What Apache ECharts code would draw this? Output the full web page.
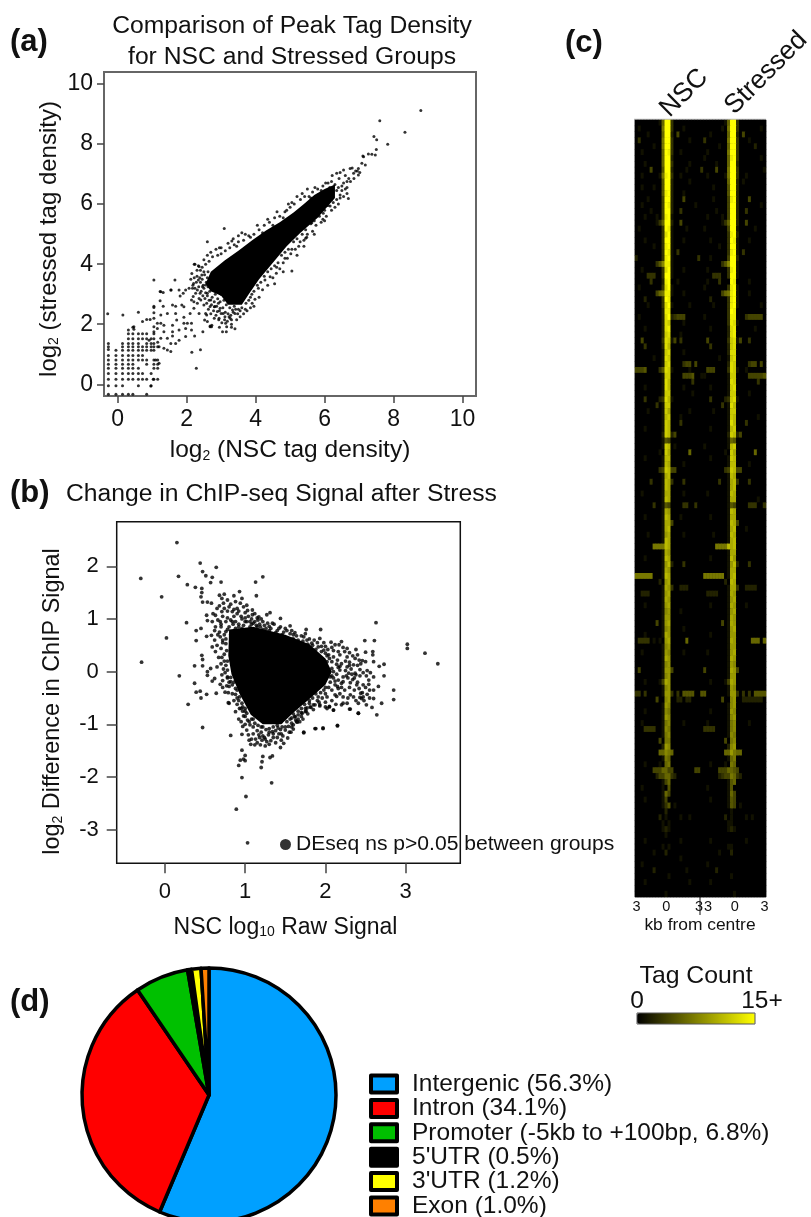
<!DOCTYPE html>
<html><head><meta charset="utf-8">
<style>html,body{margin:0;padding:0;background:#fff}#c{width:811px;height:1217px}</style>
<script src="https://cdn.jsdelivr.net/npm/echarts@6/dist/echarts.min.js"></script>
</head><body><div id="c"></div>
<script>
const FONT='"Liberation Sans",Arial,sans-serif';
const ticksAx=[0,2,4,6,8,10];
const ticksAy=[0,2,4,6,8,10];
const ticksBx=[0,1,2,3];
const ticksBy=[-3,-2,-1,0,1,2];
// (a) discrete low-count lattice, read column by column
const latticeA=[
[-.27,[-.33,-.05,.17,.36,.53,.67,.81,.96,1.16,1.25,1.36]],
[-.05,[-.33,-.05,.17,.36,.53,.67,.81,.96,1.13]],
[.14,[-.33,-.05,.17,.36,.53,.67,.81,.96,1.13,1.25,1.36]],
[.31,[-.33,.17,.36,.53,.67,.81,.96,1.13,1.25,1.36,1.52,1.68,1.81]],
[.44,[-.33,.17,.36,.53,.67,.81,.96,1.13,1.25,1.36,1.52,1.68,1.9]],
[.6,[-.05,.17,.36,.53,.81,.96,1.13,1.25,1.36,1.52,1.68]],
[.72,[.17,.36,.81,.96,1.13,1.25,1.52,1.68]],
[.84,[-.33,.17,.67,.81,1.13,1.25,1.36,1.52,1.68]],
[.97,[-.05,.36,1.13,1.25,1.36,1.52]],
[1.05,[.17,.53,.67,.81,1.13,1.25,1.36,1.52,1.68]],
[1.16,[.17,.53,.67,.81,1.25,1.4]]];
// (a) individually readable points
const pointsA=[[-.29,2.35],[.15,2.31],[.6,2.4],[1.05,2.56],[1.05,3.47],[1.23,3.09],[1.32,3.06],[1.66,3.47],[1.55,3.14],[2.24,4],[2.36,3.92],[2.6,4.75],[3.09,5.19],[3.31,4.77],[5.05,3.77],[6.69,6.19],[5.45,4.86],[2.28,.53],[2.15,1.07],[2.4,1.15],[8.79,9.12],[7.6,8.78],[8.33,8.39],[7.83,7.99],[7.43,8.25],[7.51,8.14],[7.5,7.82],[7.47,7.64],[7.37,7.66],[7.27,7.67],[7.11,7.6],
[1.25,3.08],[1.54,3.14],[1.78,3.14],[1.9,3.03],[1.81,2.94],[1.97,3.14],[2.2,3.36],[2.07,3.2],[2.17,3.2],[2.26,3.03],[2.14,2.81],[1.23,2.78],[1.05,2.6],[1.32,2.6],[1.59,2.64],[1.68,2.6],[1.86,2.64],[1.92,2.58],[2.21,2.75],[2.31,2.7],[2.41,2.81],[2.5,2.64],[2.21,2.53],[1.05,2.38],[1.25,2.31],[1.44,2.36],[1.68,2.36],[1.92,2.23],[2.1,2.36],[2.36,2.36],[2.55,2.36],[.84,2.16],[.94,2.16],[.47,1.92],[.47,1.83],[.72,2.09],[1.05,2.2],[1.15,2.03],[1.25,2.03],[1.34,1.97],[1.05,1.92],[1.59,1.97],[1.71,2.14],[1.92,2.03],[2.02,2.03],[2.14,2.03],[2.14,1.81],[1.97,1.86],[1.78,1.81],[1.59,1.75],[1.34,1.75],[1.15,1.86],[1.05,1.75],[1.59,1.61],[1.44,1.53],[1.25,1.53],[.91,1.47],[1.97,1.59],[2.23,1.61],[2.47,1.75],[1.78,1.47],[1.68,1.36],[1.54,1.36],[1.44,1.14],[1.54,1.09],[1.34,1.2],[1.2,1.25],[1.1,.81],[1.2,.7],[1.03,.17],[.96,-.06],
[2.6,2.09],[2.8,2.2],[2.94,2.2],[3.04,1.75],[3.13,2.03],[3.23,2.25],[3.33,2.47],[2.6,3.03],[2.7,2.81],[2.8,2.58],[3,2.36],[2.68,1.94],[2.72,1.92],[2.52,2.14],[2.89,2.42],[2.31,3.14],[2.46,3.25],[2.36,2.86],[2.55,3.31],
[2.22,4],[2.34,3.95],[2.44,3.64],[2.15,3.69],[2.34,3.47],[2.24,3.2],[2.48,3.3],[2.19,2.92],[2.53,2.86],[2.39,3.03],[2.68,2.59],[2.82,2.59],[2.97,2.53],[2.68,1.92],[2.73,1.97],[3.16,1.92],[3.11,2.25],[3.26,2.2],[3.4,2.36],[3.06,2.36],[2.92,2.7],[2.58,2.31],
[5.63,5.38],[5.96,5.7],[6.16,5.94],[5.96,5.86],
[5.5,6],[5.6,5.95],[5.7,6.2],[5.75,5.9],[5.8,6.3],[5.85,6.1],[5.9,5.85],[6,6.1],[6.05,6.45],[6.05,5.95],[6.1,6.3],[6.15,6.55],[6.2,6.15],[6.25,6.4],[6.3,6.65],[6.35,6.45],[6.4,6.55],[6.45,6.3],[6.5,6.6],[6.5,6.45],[6.55,6.7],[6.6,6.5],[6.65,6.75],[6.65,6.55],[6.7,6.85],[6.35,7.03],[6.55,7.14],[6.74,7.19],[6.84,7.03],[6.98,7.19],[7.08,7.36],[7.13,7.58],[7.18,7.3],[6.98,6.97],[6.9,7.1],[6.8,7.2],
[2.12,3.5],[2.18,3.3],[2.22,3.55],[2.28,3.4],[2.3,3.6],[2.35,3.25],[2.38,3.55],[2.4,3.4],[2.42,3.1],[2.45,3.5],[2.47,2.95],[2.5,3.2],[2.52,3.65],[2.55,3.05],[2.57,3.4],[2.58,2.7],[2.6,2.95],[2.62,3.25],[2.63,2.5],[2.65,2.8],[2.67,3.1],[2.7,2.35],[2.72,2.65],[2.74,2.9],[2.77,3.25],[2.78,2.45],[2.8,2.75],[2.83,3],[2.85,2.3],[2.87,2.6],[2.9,2.85],[2.93,2.15],[2.95,2.45],[2.97,2.75],[3,3],[3.02,2.05],[3.05,2.55],[3.08,2.8],[3.1,2.15],[3.12,2.4],[3.15,2.65],[3.18,2.1],[3.2,2.35],[3.25,2.55],[3.28,2.3],[3.3,2.15],[3.35,2.4],[3.38,2.6],[3.42,2.5],[3.48,2.35],[3.5,2.5],[3.55,2.45],[3.6,2.55],[3.7,2.5],[3.72,2.7],[3.8,2.8],[3.9,2.7],
[2.45,3.9],[2.55,4],[2.65,4.1],[2.75,4.25],[2.9,4.3],[3,4.35],[3.12,4.45],[3.25,4.55],[3.38,4.65],[3.5,4.75],[3.65,4.8],[3.8,4.95],[3.95,5],[4.1,5.15],[4.25,5.3],[4.4,5.4],[4.55,5.55],[4.7,5.6],[4.85,5.75],[5,5.9],[5.12,6],[5.3,6.15],[5.42,6.25],[5.55,6.25],[5.65,6.4],[5.8,6.5],[5.95,6.6],[6.1,6.7],[6.2,6.75],
[3.85,2.9],[3.95,3.1],[4.05,3.3],[4.15,3.4],[4.25,3.6],[4.35,3.75],[4.45,3.85],[4.55,3.95],[4.65,4.05],[4.75,4.3],[4.85,4.4],[4.95,4.5],[5.1,4.75],[5.2,4.85],[5.35,5],[5.45,5.15],[5.6,5.35],[5.7,5.45],[5.85,5.6],[6,5.8],[6.1,5.95],[6.25,6.05],[6.35,6.15],[6.45,6.2],
[3.98,2.83],[3.89,3],[4.08,3.2],[4.27,3.47],[4.42,3.58],[4.61,3.9],[4.85,4.2],[5.05,4.5],[5.29,4.75],[5.48,4.9],
[3,4.55],[3.2,4.7],[3.45,4.6],[3.7,5],[3.6,5.05],[3.85,4.9],[4.05,5.3],[4.2,5.05],[4.35,5.5],[4.5,5.3],[4.62,5.75],[4.8,5.55],[4.95,6],[4.9,5.8],[5.05,6.05],[5.2,6.25],[5.35,6.35],[5.5,6.5],[5.6,6.2],[5.72,6.55],[5.9,6.45],[6.03,6.7],[6.22,6.95],[6.42,6.85],[6.6,6.95],[6.75,6.75],[6.85,6.85],[6.95,7.1],[7.02,7.05],[6.45,7.05],
[3.95,2.6],[4.1,2.9],[4.2,3.15],[4.35,3.3],[4.5,3.55],[4.6,3.7],[4.7,3.85],[4.8,4.05],[4.92,4.2],[5.02,4.35],[5.15,4.5],[5.25,4.6],[5.4,4.8],[5.5,5],[5.65,5.1],[5.75,5.3],[5.9,5.4],[5.95,5.5],[6.05,5.6],[6.2,5.8],[6.3,5.9],[6.4,6],[6.55,6.25],[6.65,6.35],[4.55,3.35],[4.8,3.75],[5.2,4.3],[5.4,4.6],[5.7,5],[6,5.45],
[2.3,3.8],[2.5,4.15],[2.6,4.3],[2.7,4.4],[2.85,4.5],[2.62,3.75],[2.6,3.55],[2.5,3.75],[2.4,3.8],[3.35,4.85],[3.5,4.95],[2.95,4.55],
[3.3,1.9],[3.45,2.15],[3.55,2.25],[3.65,2.35],[3.75,2.45],[3.85,2.55],[3.3,2],[3.4,1.85],[3.15,1.75],[2.95,1.9]];
// (a) saturated region where the points merge into solid black
const coreA=[[2.55,3.35],[2.7,3.75],[3.1,4.12],[3.5,4.45],[3.9,4.8],[4.3,5.12],[4.7,5.4],[5.1,5.72],[5.4,6],[5.7,6.3],[6,6.5],[6.3,6.65],[6.3,6.2],[5.8,5.55],[5.3,5.05],[4.9,4.6],[4.5,4.05],[4.1,3.5],[3.8,3],[3.6,2.65],[3.2,2.65],[3,2.95],[2.7,3.1]];
// (b) individually readable points
const pointsB=[[.15,2.45],[-.3,1.77],[.17,1.81],[.44,2.06],[.64,1.98],[.47,1.9],[.51,1.82],[.59,1.79],[.57,1.69],[.7,1.7],[1.13,1.7],[1.22,1.8],[.28,1.65],[.38,1.6],[.46,1.58],[.46,1.5],[.45,1.42],[-.04,1.42],[.47,1.32],[1.14,1.44],[.93,1.52],[.86,1.44],[.68,1.45],[.74,1.47],[.71,1.39],[.78,1.36],[.96,1.39],[.53,1.32],[.58,1.3],[.65,1.2],[.73,1.3],[.8,1.23],[.88,1.33],[.98,1.23],[1.02,1.26],[1.09,1.17],[.52,1.07],[.63,1.07],[.71,1.14],[.84,1.14],[.9,1.2],[1.31,1.12],[1.27,1.08],[1.44,1.01],[1.17,1.04],[.27,.93],[.53,.97],[.59,.95],[.69,.95],[.82,.98],[.39,.78],[.45,.82],[.02,.64],[.39,.59],[.52,.67],[.63,.85],[.58,.69],[.69,.66],[.76,.76],[.65,.5],[.59,.47],[.63,.38],[.7,.44],[.76,.53],[.46,.31],[.47,.23],[-.29,.18],[.37,.11],[.47,.11],[.57,.06],[.53,0],[.65,.09],[.67,.27],[.71,.27],[.76,.12],[.78,.03],[.18,-.08],[.53,-.07],[.62,-.13],[.59,-.18],[.71,-.06],[.72,-.17],[.82,-.11],[.82,-.19],[.69,-.24],[.77,-.27],[.37,-.22],[.39,-.39],[.44,-.37],[.52,-.43],[.64,-.41],[.45,-.5],[.75,-.39],[.79,-.4],[.88,-.32],[.88,-.43],[.93,-.48],[.29,-.62],[.8,-.6],[.96,-.6],[.97,-.67],
[.47,-1.06],[.82,-1.21],[.96,-1.19],[.79,-.59],[.88,-.76],[.92,-.9],[.98,-.84],[1.02,-.79],[.97,-1.04],[1.02,-1.11],[1.06,-1.01],[1.04,-1.2],[1.08,-1.28],[1.07,-1.38],[1.12,-1.39],[1.19,-1.39],[1.25,-1.41],[1.21,-1.3],[1.17,-1.2],[1.27,-1.33],[1.32,-1.31],[1.4,-1.25],[1.34,-1.14],[1.44,-1.44],[1.48,-1.36],[1.53,-1.26],[1.5,-1.11],[1.41,-1.07],[1.6,-1.09],[1.73,-1.16],[1.87,-1.08],[1.97,-1.07],[2.15,-1.02],[.96,-1.49],[1,-1.59],[.94,-1.68],[.98,-1.66],[1,-1.69],[.92,-1.78],[1.22,-1.61],[1.31,-1.63],[1.34,-1.6],[1.21,-1.71],[1.2,-1.82],[.96,-2.01],[1.33,-2.11],[1.01,-2.37],[.89,-2.61],[1.03,-3.25],[1.7,-.85],[1.68,-.95],[1.75,-.76],[1.85,-.63],[1.93,-.65],[2.02,-.7],[2.1,-.73],[2.05,-.66],[2.3,-.71],[2.41,-.79],[2.22,-.6],[2.14,-.47],[1.77,-.69],[1.58,-.98],[1.54,-1.04],[1.64,-.95],
[2.63,.93],[1.76,.8],[1.94,.8],[1.56,.87],[1.6,.7],[1.73,.66],[1.93,.63],[1.98,.55],[2.07,.56],[2.2,.57],[2.17,.51],[2.49,.59],[2.61,.59],[3.02,.52],[3.02,.44],[3.24,.35],[3.4,.15],[2.38,.42],[2.5,.37],[2.59,.38],[2.59,.32],[2.27,.44],[2.24,.38],[2.16,.38],[2.12,.51],[2.08,.46],[2.27,.28],[2.18,.32],[2.1,.28],[2.37,.25],[2.42,.22],[2.46,.21],[2.5,.19],[2.6,.19],[2.67,.1],[2.73,.14],[2.73,-.08],[2.35,.13],[2.27,.09],[2.43,.04],[2.52,.02],[2.56,-.02],[2.6,-.1],[2.37,-.03],[2.29,-.03],[2.18,.03],[2.1,0],[2.06,-.1],[2.16,-.16],[2.22,-.19],[2.31,-.21],[2.39,-.25],[2.47,-.25],[2.54,-.24],[2.54,-.16],[2.66,-.28],[2.5,-.3],[2.38,-.06],[2.43,-.08],[2.51,-.08],[2.85,-.35],[2.85,-.53],[2.6,-.51],[2.7,-.6],[2.51,-.63],[2.58,-.68],[2.41,-.6],[2.41,-.79],[2.64,-.82],[2.31,-.71],[2.27,-.6],[2.2,-.63],[2.13,-.62],[2.1,-.73],[2.05,-.67],[2.22,-.48],[2.31,-.44],[2.24,-.35],[2.12,-.44],[2.08,-.35],[2.16,-.32],[2.44,-.41],[2.47,-.48],[2.45,-.51],[2.52,-.43],[2.43,-.49],[2,-.67],[1.93,-.63],[1.87,-.63],[1.81,-.67],[1.75,-.7],[1.71,-.79],[1.66,-.82],[1.62,-.86],[1.6,-1.01],[1.65,-.96],[1.73,-1.15],[1.88,-1.08],[1.97,-1.08],[2.15,-1.03],[1.98,-.35],[1.91,-.48],[2.02,-.48],[1.98,.41],[2.04,.32],[1.91,.47],[1.83,.54],[1.77,.6],[1.66,.6],[1.58,.61],[2.08,.06],[2.02,.19],[2.08,.19],
[.78,.8],[.85,.9],[.92,.85],[1,.95],[1.08,.9],[1.15,.85],[1.22,.8],[1.3,.78],[1.38,.74],[1.46,.7],[.95,1.05],[.72,.6],[.77,.4],[.74,.2],[.78,-.1],[.84,-.25],[.9,-.5],[1,-.7],[1.1,-.9],[1.2,-1.05],[1.3,-1.08],[1.45,-.95],[1.6,-.8],[1.8,-.55],[2,-.3],[2.08,-.08],[2.02,.3],
[.6,1.1],[.62,.78],[.66,.98],[.68,1.25],[.7,.85],[.72,1.05],[.74,.7],[.76,.95],[.78,1.15],[.8,.85],[.82,1.28],[.84,.95],[.86,1.05],[.88,.82],[.9,1.1],[.92,.9],[.94,1.3],[.96,1],[.98,.88],[1,1.12],[1.02,.95],[1.04,1.05],[1.06,.85],[1.08,1],[1.1,.92],[1.12,1.1],[1.14,.88],[1.16,.98],[1.18,.9],[1.2,1],[1.24,.88],[1.28,.92],[1.32,.82],[1.36,.9],[1.4,.78],[1.44,.85],[1.48,.75],[1.52,.78],[1.56,.72],[1.6,.62],[1.64,.68],[1.68,.55],[.68,.75],[.72,.55],[.74,.33],[.76,.62],[.78,.2],[.75,-.02],[.73,.05],[.7,.15],
[.72,-.3],[.78,-.12],[.8,-.28],[.84,-.42],[.86,-.55],[.9,-.62],[.93,-.7],[.97,-.75],[1,-.85],[1.05,-.95],[1.1,-1.05],[1.15,-1.12],[1.2,-1.15],[1.13,-1.28],[1.24,-1.25],[1.29,-1.2],[1.35,-1.25],[1.38,-1.12],[1.45,-1.18],[1.46,-1.05],[1.52,-.95],[1.56,-.9],[1.62,-.85],[1.66,-.75],[1.7,-.7],[1.74,-.62],[1.8,-.6],[1.84,-.5],[1.88,-.42],[1.94,-.4],[2,-.42],[1.96,-.5],[2.04,-.3],[2.06,-.2],[2.1,-.12],[2.14,-.05],[2.16,.08],[2.14,.14],[2.2,.15],[2.25,.2],[2.05,.25],[2,.35],[1.95,.38],[1.88,.42],[1.84,.5],[1.78,.52],[1.72,.58],[2.22,-.1],[2.28,-.12],[2.34,-.15],[2.3,-.3],[2.36,-.35],[2.2,-.3],[2.28,-.5],[2.35,-.48],[2.38,-.55],[2.32,.05],[2.34,.3],[2.3,.18],[2.4,.12],[2.44,.15],[2.47,-.02],[2.12,-.25],[2.18,-.42],[2.08,-.55],[2,-.58],[1.9,-.55],[1.85,-.72],[1.78,-.8],[1.72,-.9],[1.66,-.9],[1.58,-1.05],[1.45,-1.3],[1.38,-1.35],[1.3,-1.38],[1.25,-1.28],[1.18,-1.25],[1.1,-1.18],[1.05,-1.3],[1,-1],[.95,-.95],[1.55,-1.15],[1.47,-1.22],
[.62,.6],[.66,.7],[.7,.9],[.74,1.2],[.78,1.02],[.82,.7],[.86,1.18],[.88,.95],[.92,1.15],[.96,.82],[1,1.02],[1.03,1.16],[1.06,.95],[1.09,1.08],[1.12,.95],[1.15,1.02],[1.19,.85],[1.22,.95],[1.26,.82],[1.3,.86],[1.34,.92],[1.42,.82],[1.5,.82],[1.58,.78],[1.62,.74],[1.7,.68],[1.75,.72],[1.8,.62],[1.86,.6],[1.9,.55],[1.95,.48],[2,.48],[2.03,.42],[2.1,.4],
[2.15,.22],[2.18,.1],[2.12,-.18],[2.15,-.28],[2.2,-.22],[2.26,-.08],[2.25,.02],[2.3,.12],[2.33,-.05],[2.36,-.12],[2.4,-.2],[2.42,-.32],[2.46,-.4],[2.48,-.55],[2.55,-.5],[2.55,-.35],[2.6,-.35],[2.4,.32],[2.3,.36],[2.22,.46],
[1.92,-.58],[1.82,-.68],[1.76,-.75],[1.7,-.78],[1.63,-.92],[1.58,-.88],[1.5,-1.05],[1.44,-1.1],[1.4,-1.02],[1.35,-1.05],[1.3,-1.15],[1.26,-1.1],[1.22,-1.05],[1.16,-1.02],[1.12,-.98],[1.08,-.9],[1.03,-.92],[1,-.75],[.95,-.7],[.92,-.55],[.9,-.35],[.86,-.2],[.8,-.2],[1.15,-1.35],[1.22,-1.22],[1.35,-1.18],[1.42,-1.18],[1.57,-1.15]];
// (b) saturated region where the points merge into solid black
const coreB=[[.8,.8],[1.1,.85],[1.5,.7],[1.8,.52],[2,.25],[2.08,0],[2,-.25],[1.8,-.52],[1.6,-.78],[1.45,-1],[1.22,-1],[1.07,-.82],[.93,-.42],[.83,-.05],[.79,.3]];
// (c) tag count per row; groups: NSC left, NSC centre, NSC right, Stressed left, centre, right ('.'=0, F=15+)
const heatRows=[
"........16 FF 3......... ........16 FF 3.........",
".1.......7 FF 3...1..... .......1.7 FF 3.......1.",
"....1....6 FF 2.4....... ...1.....6 FF 2.4.......",
".3.......7 FF 3.....1... .3.......7 FF 3...1.....",
"......1..7 FF 3......... ......1..6 FF 3.....2...",
"..1......6 FE 3..1...... ..1......7 FF 3.........",
".........6 FF 2......... .1.......6 EF 3.......1.",
"...1.....6 FF 3.....1... .....1...6 FF 2.........",
".....4...5 FF 2....1.... 3....4...7 FF 3........1",
"..1.....17 EF 3..1...... ..1.....17 FF 3..1......",
".........5 FF 2.....1... .........6 FF 2.1.......",
"..1...1..5 FF 2......... ....1....5 FF 2.........",
".........5 EF 2...1..... .........5 FF 2.........",
"....1....4 FF 2...4..... ....1....4 EF 2...4.....",
"..1......4 FE 2.......1. .........4 FF 2.......1.",
".....1...4 FF 2..3...... .....1...4 FF 2..3......",
"...1...1.4 EF 1......... ..1....1.4 FF 2.........",
".......136 FF 2..4...... .......136 FF 2..4......",
".1.......3 FE 1....1.... .1.......4 FF 1.....1...",
".........3 DF 1......... .........3 EF 2.........",
"...1.....3 FF 1...1..... ...1.....3 FE 1...1.....",
"......1..3 EF 1......... ......1..3 FF 1.........",
".........3 FE 1.3....... .........3 EF 1.3.......",
"2........3 EF 1........3 ...1.....4 FF 2.........",
".......358 EE 1......... .......358 FF 1.........",
"..1......3 DF 1...1..... ..1......3 EF 1.........",
"....333..3 FF 1......... ....333..3 FF 1.........",
".....3...2 EF ..1....... ..1...3...3 FE ....1.....",
".1.......3 DF 1......... .1.......3 EF 1.........",
".......467 EE 1...1..... .......467 EF 1...1.....",
"...2.....3 FE .......... ...2.....3 EF 1.........",
"....1....3 DF 1.....1... ....1....3 EF 1.......1.",
".........2 EE .......... .........3 FE ..........",
".1.......2 DF 23444..... .1.......3 EE ...344444.",
".........2 DC ....1.... .........3 ED 1.........",
"...1.....2 DE .......... ...1.....2 DE ......1...",
".........2 CD ...1...... .........2 DE ..........",
"..4......3 DC 14.3...... ..4......3 CD 14..3.....",
"...3.....2 DB .......... ...3.....2 CD ..........",
".........1 CD ....1.... .........2 DD ..........",
"......1..1 DC .......... ......1..1 CD ..........",
".........1 CD ....344.4. .........2 DC ....344.4.",
"4445....35 DC 1.....1... ..444....35 DC 1..1......",
".........1 CC ....4445.. 11.......1 CC ....444445",
".........1 DB .......3.. .........1 DC .......3..",
"...1.....1 DB ....1..... ...1.....1 CD ..........",
".........1 CC .......1.. .........1 CC ....1.....",
"...3....23 DB 1......... ...3....23 CD 1.........",
".......3.1 CC .......... .......3.1 DB ..........",
"....1....1 CA ......1... ....1....1 CC ..........",
".........1 BC ...1...... .........1 CB .......1..",
".........1 CB ...3...... .........1 DB ...3......",
"...1.....1 CB .......... ...1.....1 BC ..........",
".........2 CB 24........ .........2 CB 24........",
".........1 54 .......... .........1 65 ..........",
".........1 CB .1........ .1.......1 BC ..........",
"........1. CA ......6... ........1. CA ......6...",
"...1.....1 BB .......... ...1.....1 CB ..........",
".........1 BA ....1.... .........1 BB ....1.....",
"........34 CB 44........ ........34 CB 44........",
".........1 AB .......... .........1 BA ..........",
".....3...1 BA 3...3..... ......3..1 AB 3...3.....",
".........1 BA .......... .........1 AB ..........",
"..1......1 AA ....1.... ..1......1 BA ..........",
".........1 BA .......... .........1 AA .......1..",
"......3..1 54 ....33..3 .........1 54 ....333..3",
".........1 A9 .......... .........1 BA ..........",
"...1.....1 BA ...1...... ...1.....1 AA ..........",
".........1 AA 4......... .........1 BA 4.........",
".........1 AB .......... .........1 AB ...1......",
"....1....1 9A ....1.... ....1....1 BA ..........",
".........1 BA .......... .........1 AB ..........",
"......7777 BA .......... .....7777B AB ..........",
".........1 A9 .......... .........1 AA ..........",
"...1.....1 BA .......... ...1.....1 B9 ..........",
".........1 9B 2...3..... .........1 9B 2...3.....",
".........1 A9 .......... .........1 AA ..........",
"777777...1 BA .......... .7777777.1 AB ..........",
"........2. 9A .......... ........2. BA ..........",
".........1 A9 3..222.... .........1 AA 3..2222...",
"..222....1 9A .......... ..2222...1 A9 ..........",
".........1 A9 .......... .........1 9A ..........",
"...1.....1 9A .......... ...1.....1 A9 ...1......",
".........1 89 ...1..... .........1 9A ..........",
".........1 99 .......... .........1 A9 ..........",
".......4.1 9A .......... .......4.1 A9 ..........",
".........1 89 ....1.... .........1 9A ..........",
"...1.....1 A9 .......... ...1.....1 99 ..........",
".3333.1.1. 9A .....6.... .........1 A9 .....666.6",
".........1 89 .......... .........1 99 ..........",
"..1......1 98 ....1.... ..1......1 9A ..........",
".........1 A9 .......... .........1 A9 ..........",
".........1 89 .......... .........1 98 ..........",
".4.......1 99 4......... .4.......1 A9 4.........",
".........1 89 .......... .........1 99 ..........",
"...1....14 A9 .......... ...1....14 A9 ..........",
".........1 89 .......... .........1 98 ..........",
"33.3.....1 99 3.3.5555.. 55.......1 99 3.3.3.5555",
".......4.. 89 ..22.22.. .......4.. 89 ..2222222.",
".........1 98 .......... .........1 89 ..........",
"...1.....1 87 .......... ...1.....1 98 ..........",
".........1 98 .......... .........1 89 ..........",
"..1......1 78 ....1.... ..1......1 78 ....1.....",
"...3333..1 87 .......... .3333....1 78 ..........",
".........1 78 .......... .........1 87 ..........",
"........4. 77 .......... ........4. 78 ..........",
".........2 98 .......... .........2 89 ..........",
"........66 87 6......... ........66 97 66........",
".........1 76 .......... .........1 67 ..........",
"...1....1. 67 .......... ...1....1. 76 ..........",
"......4446 64 4.......44 ......4446 65 4.........",
".......244 66 32........ ......2344 76 32........",
".........1 46 .......... .........1 56 ..........",
"..1......1 .5 .......... ..1......1 5. ..........",
".........1 64 .......... .........1 64 ..........",
"...1.....1 4. .......... ...1.....1 54 ..........",
".........1 35 .1........ .........1 54 .1........",
".......... 2. .......... .......... 1. ..........",
"........2. 1. ...1..1... ........2. 1. ...1.1....",
".........1 .1 .......... .........1 1. ..........",
".........1 21 .......... .........1 21 ..........",
".......... 1. .......... .......... .. ..........",
"...1...... .. ...1...... ...1...... .. ...1......",
".........1 .1 .......... .........1 1. ..........",
"......1... 2. .......... ......1... 2. ..........",
".......... .. ...1...... .......... .. ..........",
"..1....... .. .......... ..1....... .. ..........",
"......2... .. .....1.... .....2.... .. ..........",
".......... .1 .......... .......... 1. ..........",
"...1...... .. ......1... ...1...... .. ..........",
".......... .. .......... .......... .. ..........",
".......... 1. .......... .......... .1 .........."];
const kbLabels={0:'3',10:'0',21:'3',24:'3',33:'0',43:'3'};
const pieNames=['Intergenic (56.3%)','Intron (34.1%)','Promoter (-5kb to +100bp, 6.8%)',"5'UTR (0.5%)","3'UTR (1.2%)",'Exon (1.0%)'];
const pieValues=[56.3,34.1,6.8,.5,1.2,1];
const pieColors=['#00A0FF','#FF0000','#00C000','#000000','#FFFF00','#FF8000'];
const dotName='DEseq ns p>0.05 between groups';

const latticePts=[];latticeA.forEach(c=>c[1].forEach(y=>latticePts.push([c[0],y])));
const heatCells=[];const nCols=44;const groupW=[10,2,10,10,2,10];
const heatCats=[],rowCats=[];for(let i=0;i<nCols;i++)heatCats.push(String(i));
heatRows.forEach((s,r)=>{rowCats.push(String(r));
 const g=s.split(' ');const t=groupW.map((w,i)=>(g[i]||'').padEnd(w,'.').slice(0,w)).join('');
 for(let c=0;c<nCols;c++){const v=t[c]==='.'?0:parseInt(t[c],16);heatCells.push([c,r,v]);}});

const tick=(v,l)=>({customValues:v,length:l,lineStyle:{color:'#444',width:1.5}});
const line0={show:false,onZero:false};
const sub={sub:{fontSize:14,verticalAlign:'bottom',padding:[10,0,0,0],fontFamily:FONT,color:'#111'}};
const polyItem=(outline)=>(p,api)=>{if(p.dataIndex!==0)return null;
 return {type:'polygon',shape:{points:outline.map(q=>api.coord(q))},style:{fill:'#000'}};};
const T=(x,y,text,size,extra)=>Object.assign({type:'text',x,y,silent:true,style:Object.assign({text,font:`${size}px ${FONT}`,fill:'#111',align:'center',verticalAlign:'middle'},extra||{})});

const option={animation:false,backgroundColor:'#fff',textStyle:{fontFamily:FONT},
title:[
 {text:'Comparison of Peak Tag Density\nfor NSC and Stressed Groups',left:292,top:11,textAlign:'center',textStyle:{fontSize:24.7,fontWeight:'normal',lineHeight:30.5,color:'#111',fontFamily:FONT}},
 {text:'Change in ChIP-seq Signal after Stress',left:66,top:482,textStyle:{fontSize:24.7,fontWeight:'normal',color:'#111',fontFamily:FONT}},
 {text:'(a)',left:10,top:27,textStyle:{fontSize:31,fontWeight:'bold',color:'#111',fontFamily:FONT}},
 {text:'(b)',left:10,top:478,textStyle:{fontSize:31,fontWeight:'bold',color:'#111',fontFamily:FONT}},
 {text:'(c)',left:565,top:28,textStyle:{fontSize:31,fontWeight:'bold',color:'#111',fontFamily:FONT}},
 {text:'(d)',left:10,top:987,textStyle:{fontSize:31,fontWeight:'bold',color:'#111',fontFamily:FONT}}
].map(t=>Object.assign(t,{padding:0})),
grid:[
 {left:104,top:72,width:372,height:324,show:true,borderColor:'#666',borderWidth:2,backgroundColor:'#fff'},
 {left:116.7,top:521.7,width:343.6,height:341.6,show:true,borderColor:'#111',borderWidth:1.5,backgroundColor:'#fff'},
 {left:635,top:120,width:131,height:777,show:true,borderColor:'#888',borderWidth:1,backgroundColor:'#000'}
],
xAxis:[
 {type:'value',gridIndex:0,min:-.397,max:10.39,splitLine:{show:false},axisLine:line0,axisTick:tick(ticksAx,7),
  axisLabel:{customValues:ticksAx,fontSize:23,color:'#111',margin:12},
  name:'log{sub|2} (NSC tag density)',nameLocation:'middle',nameGap:42,nameTextStyle:{fontSize:24.5,color:'#111',rich:sub}},
 {type:'value',gridIndex:1,min:-.6,max:3.68,splitLine:{show:false},axisLine:line0,axisTick:tick(ticksBx,10),
  axisLabel:{customValues:ticksBx,fontSize:22,color:'#111',margin:18},
  name:'NSC log{sub|10} Raw Signal',nameLocation:'middle',nameGap:52,nameTextStyle:{fontSize:23,color:'#111',padding:[0,6,0,0],rich:sub}},
 {type:'category',gridIndex:2,data:heatCats,axisLine:line0,axisTick:{show:false},splitLine:{show:false},
  axisLabel:{interval:0,margin:2,fontSize:14.5,color:'#111',formatter:(v,i)=>kbLabels[i]||''}}
],
yAxis:[
 {type:'value',gridIndex:0,min:-.39,max:10.4,splitLine:{show:false},axisLine:line0,axisTick:tick(ticksAy,7),
  axisLabel:{customValues:ticksAy,fontSize:23,color:'#111',margin:11,padding:[3,0,0,0]},
  name:'log{sub|2} (stressed tag density)',nameLocation:'middle',nameGap:43,nameRotate:90,nameTextStyle:{fontSize:24,color:'#111',padding:[0,10,0,0],rich:sub}},
 {type:'value',gridIndex:1,min:-3.638,max:2.846,splitLine:{show:false},axisLine:line0,axisTick:tick(ticksBy,10),
  axisLabel:{customValues:ticksBy,fontSize:22,color:'#111',margin:18,padding:[1,0,0,0]},
  name:'log{sub|2} Difference in ChIP Signal',nameLocation:'middle',nameGap:52,nameRotate:90,nameTextStyle:{fontSize:23.4,color:'#111',padding:[0,18,0,0],rich:sub}},
 {type:'category',gridIndex:2,data:rowCats,inverse:true,axisLine:line0,axisTick:{show:false},axisLabel:{show:false},splitLine:{show:false}}
],
visualMap:[{type:'continuous',seriesIndex:4,min:0,max:15,orient:'horizontal',left:637,top:1013,itemWidth:11,itemHeight:118,padding:0,calculable:false,showLabel:false,text:null,inRange:{color:['#000000','#FFFF00']},textStyle:{fontSize:0}}],
legend:[
 {data:pieNames,orient:'vertical',left:369,top:1071.5,height:170,padding:0,itemWidth:26,itemHeight:17,itemGap:-.6,icon:'rect',selectedMode:false,
  itemStyle:{borderColor:'#000',borderWidth:4},textStyle:{fontSize:24.5,lineHeight:21,height:21,color:'#111',fontFamily:FONT,padding:[0,0,0,10]}},
 {data:[dotName],left:280,top:834,padding:0,itemWidth:11,itemHeight:11,icon:'circle',selectedMode:false,
  textStyle:{fontSize:21.1,color:'#111',fontFamily:FONT}}
],
series:[
 {type:'custom',xAxisIndex:0,yAxisIndex:0,data:coreA,renderItem:polyItem(coreA),silent:true,encode:{x:0,y:1}},
 {type:'scatter',name:'a',xAxisIndex:0,yAxisIndex:0,data:latticePts.concat(pointsA),symbolSize:3,itemStyle:{color:'#000'},silent:true},
 {type:'custom',xAxisIndex:1,yAxisIndex:1,data:coreB,renderItem:polyItem(coreB),silent:true,encode:{x:0,y:1}},
 {type:'scatter',name:dotName,xAxisIndex:1,yAxisIndex:1,data:pointsB,symbolSize:3.8,itemStyle:{color:'#000'},silent:true},
 {type:'heatmap',xAxisIndex:2,yAxisIndex:2,data:heatCells,progressive:0,silent:true,emphasis:{disabled:true},itemStyle:{borderWidth:0}},
 {type:'pie',center:[209,1095],radius:[0,127],startAngle:90,clockwise:true,silent:true,label:{show:false},labelLine:{show:false},
  itemStyle:{borderColor:'#000',borderWidth:3.5},
  data:pieNames.map((n,i)=>({name:n,value:pieValues[i],itemStyle:{color:pieColors[i]}}))}
],
graphic:[
 T(684,93,'NSC',26.5,{}),
 T(766,73,'Stressed',26.5,{}),
 {type:'line',silent:true,shape:{x1:700,y1:897,x2:700,y2:915},style:{stroke:'#111',lineWidth:1}},
 {type:'line',silent:true,shape:{x1:634,y1:119.5,x2:766,y2:119.5},style:{stroke:'#bbb',lineWidth:1.5}},
 T(700,925,'kb from centre',17.4),
 T(696,976,'Tag Count',24.8),
 T(637,1001,'0',24.5),
 T(762,1001,'15+',24.5),
 {type:'rect',silent:true,z:10,shape:{x:637,y:1013,width:118,height:11},style:{fill:'none',stroke:'#555',lineWidth:1}}
]};
option.graphic[0].rotation=Math.PI/4;option.graphic[1].rotation=Math.PI/4;
const chart=echarts.init(document.getElementById('c'),null,{renderer:'canvas'});
chart.setOption(option);
</script></body></html>
